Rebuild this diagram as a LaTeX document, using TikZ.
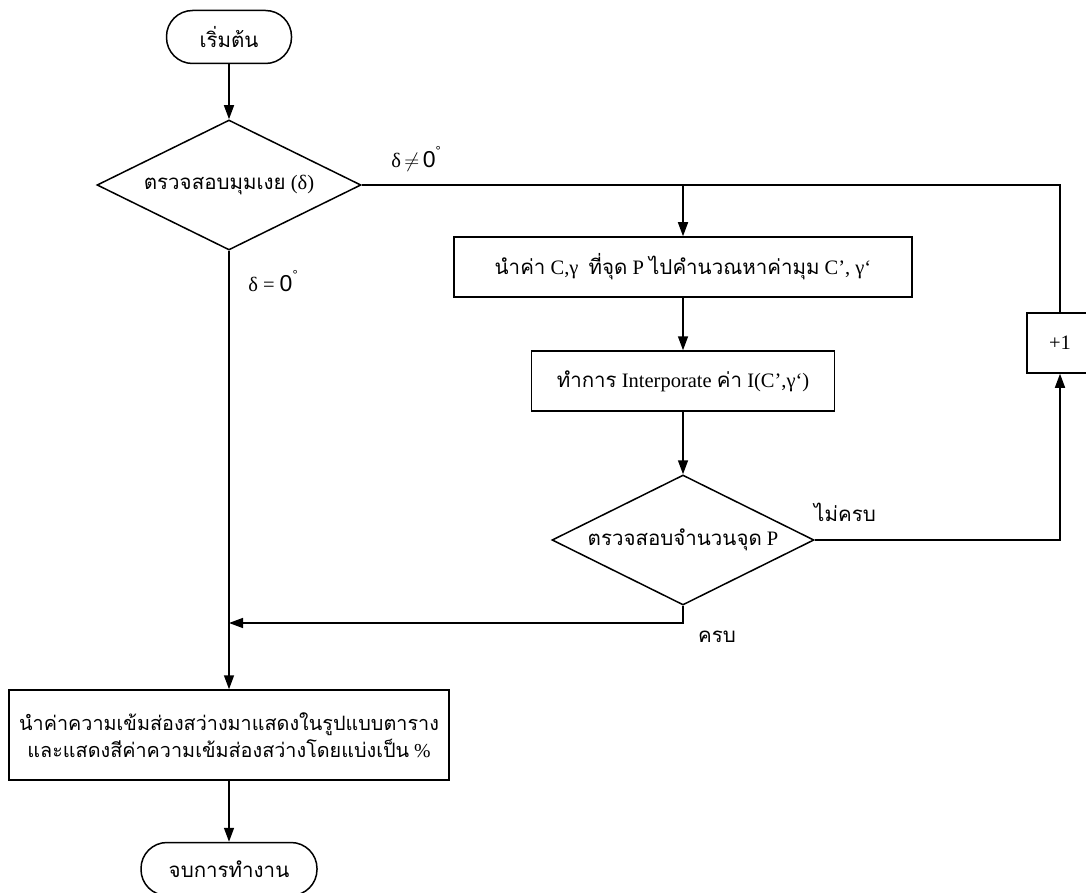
\documentclass[tikz,border=0pt]{standalone}
\usepackage{fontspec}
\setmainfont{Liberation Serif}
\newfontfamily\thaif[Script=Thai]{Loma}
\newfontfamily\sansf{Liberation Sans}
\usetikzlibrary{shapes.geometric,arrows.meta}
\newcommand{\T}[1]{{\thaif #1}}
% zero with a raised degree ring, as used in the branch labels
\newcommand{\zerodeg}{{\sansf\fontsize{23}{23}\selectfont 0}\raisebox{0.6em}{\sansf\fontsize{13}{13}\selectfont °}}
\begin{document}
\begin{tikzpicture}[x=1pt,y=-1pt,
  every node/.style={font=\fontsize{20.5}{27}\selectfont},
  line/.style={line width=1.5pt},
  flow/.style={line, -{Triangle[length=14pt,width=10pt]}},
  terminal/.style={draw, line width=1.5pt, rounded corners=26pt, minimum height=53pt, inner sep=0pt},
  process/.style={draw, line width=1.5pt, inner sep=0pt, align=center},
  decision/.style={draw, line width=1.5pt, diamond, aspect=2, inner sep=0pt},
  lbl/.style={inner sep=0pt}]
\useasboundingbox (0,0) rectangle (1086,893);
\begin{scope}
\clip (0,0) rectangle (1086,893);
% steps of the flowchart
\node[terminal, minimum width=125pt] (start) at (229,37) {\T{เริ่มต้น}};
\node[decision, minimum width=264pt, minimum height=130pt] (chk) at (229,185) {\T{ตรวจสอบมุมเงย} (δ)};
\node[process, minimum width=458pt, minimum height=60pt] (calc) at (683,267) {\T{นำค่า} C,γ \ \T{ที่จุด} P \T{ไปคำนวณหาค่ามุม} C’, γ‘};
\node[process, minimum width=303pt, minimum height=60pt] (interp) at (683,381) {\T{ทำการ} Interporate \T{ค่า} I(C’,γ‘)};
\node[decision, minimum width=262pt, minimum height=130pt] (cnt) at (683,540) {\T{ตรวจสอบจำนวนจุด} P};
\node[process, minimum width=66pt, minimum height=60pt] (inc) at (1060,343) {+1};
\node[process, minimum width=440pt, minimum height=90pt, font=\fontsize{19.8}{27}\selectfont] (show) at (229,735)
  {\T{นำค่าความเข้มส่องสว่างมาแสดงในรูปแบบตาราง}\\\T{และแสดงสีค่าความเข้มส่องสว่างโดยแบ่งเป็น} \%};
\node[terminal, minimum width=176pt] (stop) at (229,869) {\T{จบการทำงาน}};
% branch labels
\node[lbl] (ne) at (416,159) {δ$\,\neq\,$\zerodeg};
\node[lbl] (eq) at (273,281) {δ = \zerodeg};
\node[lbl] (notall) at (845,512) {\T{ไม่ครบ}};
\node[lbl] (all) at (717,637) {\T{ครบ}};
% connector corners
\coordinate (tr) at (1060,185);
\coordinate (tb) at (683,185);
\coordinate (br) at (1060,540);
\coordinate (bl) at (683,623);
\coordinate (join) at (229,623);
% connectors
\draw[flow] (start) -- (chk);
\draw[line] (chk.east) -- (tr) -- (inc.north);
\draw[flow] (tb) -- (calc);
\draw[flow] (calc) -- (interp);
\draw[flow] (interp) -- (cnt);
\draw[flow] (cnt.east) -- (br) -- (inc.south);
\draw[flow] (cnt.south) -- (bl) -- (join);
\draw[flow] (chk.south) -- (show.north);
\draw[flow] (show) -- (stop);
\end{scope}
\end{tikzpicture}
\end{document}
